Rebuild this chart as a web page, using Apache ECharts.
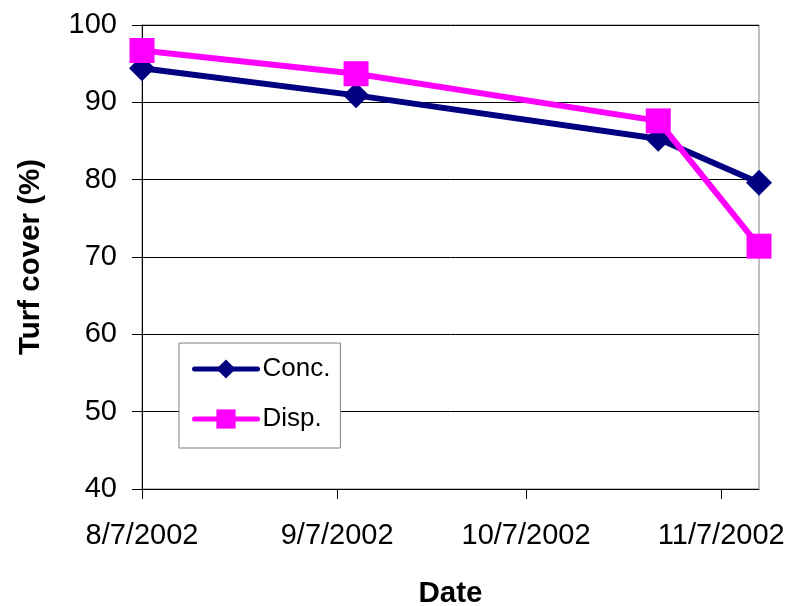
<!DOCTYPE html>
<html>
<head>
<meta charset="utf-8">
<title>Turf cover</title>
<script src="https://cdn.jsdelivr.net/npm/echarts@6/dist/echarts.min.js"></script>
<style>
  html, body { margin: 0; padding: 0; background: #fff; }
  #chart { width: 797px; height: 606px; }
</style>
</head>
<body>
<div id="chart"></div>
<script>
// Sampling dates and turf cover (%) for the two treatments
const sampleDates = ['2002-08-07', '2002-09-10', '2002-10-28', '2002-11-13'];
const concValues = [94.4, 90.9, 85.3, 79.6];
const dispValues = [96.7, 93.7, 87.6, 71.4];
const tickDates = ['2002-08-07', '2002-09-07', '2002-10-07', '2002-11-07'];
const seriesNames = ['Conc.', 'Disp.'];
const yTicks = [40, 50, 60, 70, 80, 90, 100];

const FONT = '"Liberation Sans", Arial, Helvetica, sans-serif';

function toTime(s) {
  const p = s.split('-').map(Number);
  return Date.UTC(p[0], p[1] - 1, p[2]);
}
function fmtDate(v) {
  const d = new Date(v);
  return (d.getUTCMonth() + 1) + '/' + d.getUTCDate() + '/' + d.getUTCFullYear();
}

const xs = sampleDates.map(toTime);
const tickValues = tickDates.map(toTime);

const chart = echarts.init(document.getElementById('chart'), null, { renderer: 'canvas' });

chart.setOption({
  animation: false,
  backgroundColor: '#ffffff',
  textStyle: { fontFamily: FONT, color: '#000' },
  grid: {
    left: 142, right: 38, top: 25, bottom: 117,
    outerBoundsMode: 'none',
    containLabel: false,
    show: true, borderColor: '#808080', borderWidth: 1, backgroundColor: 'transparent'
  },
  legend: {
    orient: 'vertical',
    left: 179, top: 343,
    padding: [11, 10, 14, 13],
    itemGap: 20,
    itemWidth: 63,
    itemHeight: 24,
    backgroundColor: '#ffffff',
    borderColor: '#808080',
    borderWidth: 1,
    borderRadius: 0,
    data: seriesNames,
    lineStyle: { width: 5, cap: 'round' },
    textStyle: { fontFamily: FONT, fontSize: 26, color: '#000', lineHeight: 30 }
  },
  xAxis: {
    type: 'value',
    min: xs[0],
    max: xs[xs.length - 1],
    name: 'Date',
    nameLocation: 'middle',
    nameGap: 90,
    nameTextStyle: { fontFamily: FONT, fontSize: 29.5, fontWeight: 'bold', color: '#000' },
    axisLine: { show: true, onZero: false, lineStyle: { color: '#000', width: 1 } },
    axisTick: { show: true, inside: false, length: 10, customValues: tickValues, lineStyle: { color: '#000' } },
    axisLabel: {
      customValues: tickValues,
      formatter: fmtDate,
      fontFamily: FONT, fontSize: 29, color: '#000', margin: 32
    },
    splitLine: { show: false }
  },
  yAxis: {
    type: 'value',
    min: yTicks[0],
    max: yTicks[yTicks.length - 1],
    interval: 10,
    name: 'Turf cover (%)',
    nameLocation: 'middle',
    nameRotate: 90,
    nameGap: 96,
    nameTextStyle: { fontFamily: FONT, fontSize: 29.5, fontWeight: 'bold', color: '#000' },
    axisLine: { show: true, lineStyle: { color: '#000', width: 1 } },
    axisTick: { show: true, inside: false, length: 10, lineStyle: { color: '#000' } },
    axisLabel: { fontFamily: FONT, fontSize: 29, color: '#000', margin: 25 },
    splitLine: { show: true, lineStyle: { color: '#000', width: 1 } }
  },
  series: [
    {
      name: seriesNames[0],
      type: 'line',
      data: xs.map((x, i) => [x, concValues[i]]),
      color: '#000080',
      lineStyle: { color: '#000080', width: 6 },
      itemStyle: { color: '#000080' },
      symbol: 'diamond',
      symbolSize: 26,
      z: 2
    },
    {
      name: seriesNames[1],
      type: 'line',
      data: xs.map((x, i) => [x, dispValues[i]]),
      color: '#ff00ff',
      lineStyle: { color: '#ff00ff', width: 6 },
      itemStyle: { color: '#ff00ff' },
      symbol: 'rect',
      symbolSize: 25,
      z: 3
    }
  ]
});
</script>
</body>
</html>
